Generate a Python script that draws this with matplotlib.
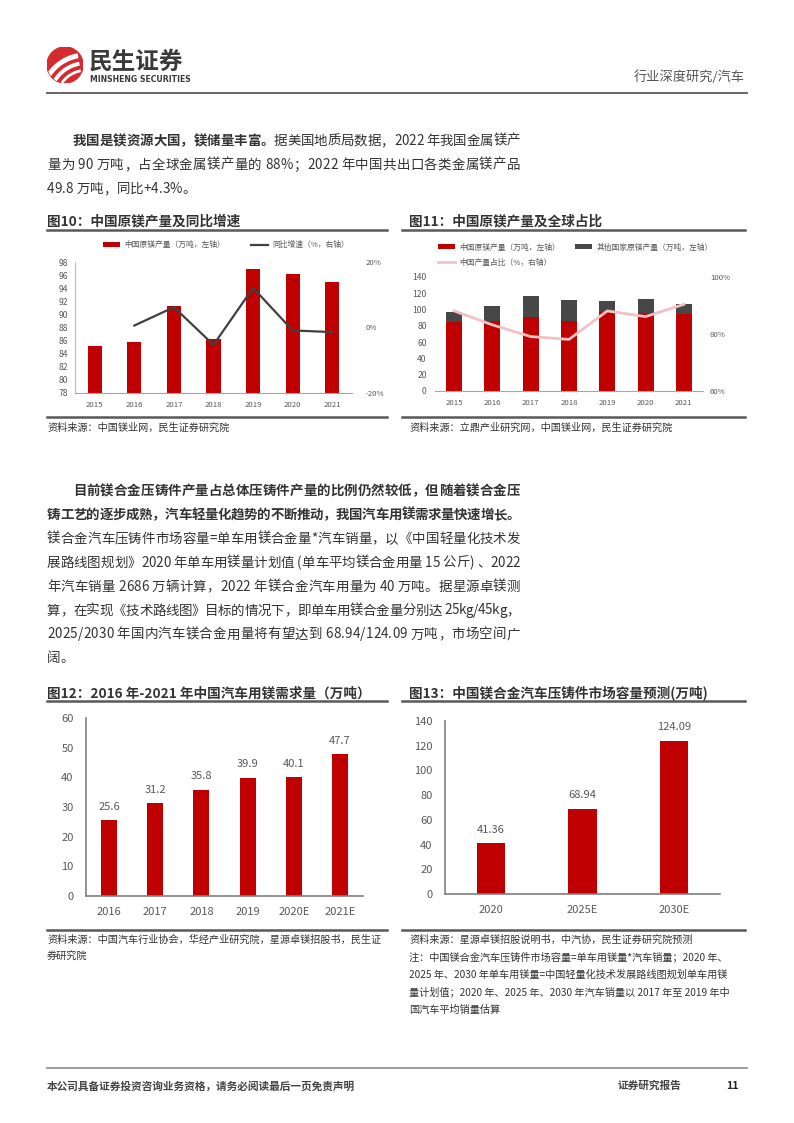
import matplotlib
matplotlib.use("Agg")
import matplotlib.pyplot as plt
from matplotlib.patches import Circle
from matplotlib.lines import Line2D
from matplotlib.font_manager import FontProperties
import numpy as np

plt.rcParams['font.family'] = ['Noto Sans CJK SC', 'DejaVu Sans']
plt.rcParams['axes.unicode_minus'] = False

# ---- data ----
years = ['2015', '2016', '2017', '2018', '2019', '2020', '2021']
cn_output = [85.2, 85.8, 91.3, 86.2, 97.0, 96.2, 95.0]
yoy_years = ['2016', '2017', '2018', '2019', '2020', '2021']
cn_yoy = [0.6, 6.2, -5.3, 12.1, -0.9, -1.4]
other_output = [12.0, 18.4, 25.2, 25.4, 13.7, 16.2, 11.6]
cn_share = [88.1, 83.2, 79.1, 78.1, 88.1, 86.1, 90.4]

demand_years = ['2016', '2017', '2018', '2019', '2020E', '2021E']
demand = [25.6, 31.2, 35.8, 39.9, 40.1, 47.7]

cap_years = ['2020', '2025E', '2030E']
capacity = [41.36, 68.94, 124.09]

# (bold part, normal part, justified?)
para1 = [
    ("我国是镁资源大国，镁储量丰富。", "据美国地质局数据，2022 年我国金属镁产", True),
    ("", "量为 90 万吨，占全球金属镁产量的 88%；2022 年中国共出口各类金属镁产品", True),
    ("", "49.8 万吨，同比+4.3%。", False),
]
para2 = [
    ("目前镁合金压铸件产量占总体压铸件产量的比例仍然较低，但随着镁合金压", "", True),
    ("铸工艺的逐步成熟，汽车轻量化趋势的不断推动，我国汽车用镁需求量快速增长。", "", True),
    ("", "镁合金汽车压铸件市场容量=单车用镁合金量*汽车销量，以《中国轻量化技术发", True),
    ("", "展路线图规划》2020 年单车用镁量计划值 (单车平均镁合金用量 15 公斤) 、2022", True),
    ("", "年汽车销量 2686 万辆计算，2022 年镁合金汽车用量为 40 万吨。据星源卓镁测", True),
    ("", "算，在实现《技术路线图》目标的情况下，即单车用镁合金量分别达 25kg/45kg，", True),
    ("", "2025/2030 年国内汽车镁合金用量将有望达到 68.94/124.09 万吨，市场空间广", True),
    ("", "阔。", False),
]

RED = '#C00000'
DARK = '#404040'
PINK = '#F2C2C2'
TXT = '#333333'
TICK = '#595959'

W, H = 794, 1123
fig = plt.figure(figsize=(W / 100, H / 100), dpi=100)


def fx(x):
    return x / W


def fy(y):
    return 1 - y / H


def add_axes_px(x0, y0, x1, y1):
    return fig.add_axes([fx(x0), fy(y1), (x1 - x0) / W, (y1 - y0) / H])


def hline(x0, x1, y, color='#595959', lw=1.5):
    fig.add_artist(Line2D([fx(x0), fx(x1)], [fy(y), fy(y)], color=color, lw=lw,
                          transform=fig.transFigure))


renderer = fig.canvas.get_renderer()
PSIZE = 9.7
fp_norm = FontProperties(family=['Noto Sans CJK SC', 'DejaVu Sans'], size=PSIZE)
fp_bold = FontProperties(family=['Noto Sans CJK SC', 'DejaVu Sans'], size=PSIZE,
                         weight='bold')
_bar_w = {}


def text_w(s, fp):
    # width in px; a sentinel keeps trailing spaces counted
    key = id(fp)
    if key not in _bar_w:
        _bar_w[key] = renderer.get_text_width_height_descent('|', fp, ismath=False)[0]
    w = renderer.get_text_width_height_descent(s + '|', fp, ismath=False)[0]
    return w - _bar_w[key]


def para_line(x, y, bold, normal, justify, right=520):
    chars = [(c, True) for c in bold] + [(c, False) for c in normal]
    pos = []
    for k in range(len(chars)):
        if k < len(bold):
            pos.append(text_w(bold[:k], fp_bold) if k else 0.0)
        else:
            pos.append(text_w(bold, fp_bold) + text_w(normal[:k - len(bold)], fp_norm))
    total = text_w(bold, fp_bold) + text_w(normal, fp_norm)
    extra = (right - x - total) / (len(chars) - 1) if justify and len(chars) > 1 else 0.0
    for k, (c, b) in enumerate(chars):
        if c == ' ':
            continue
        fig.text(fx(x + pos[k] + k * extra), fy(y), c, fontproperties=fp_bold if b else fp_norm,
                 color=TXT, va='center', ha='left')


# ---- header ----
logo = add_axes_px(47, 47, 83, 83)
logo.set_xlim(-1, 1)
logo.set_ylim(-1, 1)
logo.set_aspect('equal')
logo.axis('off')
disc = Circle((0, 0), 1, color='#D52B2F')
logo.add_patch(disc)
for r, w in [(1.6, 2.0), (2.0, 2.8), (2.45, 3.6)]:
    t = np.linspace(np.deg2rad(100), np.deg2rad(175), 50)
    ln, = logo.plot(1.15 + r * np.cos(t), -1.9 + r * np.sin(t), color='white', lw=w,
                    solid_capstyle='butt')
    ln.set_clip_path(disc)
fig.text(fx(89), fy(62), "民生证券", fontsize=17, fontweight='bold', color='#3A3A3A',
         va='center', ha='left')
fig.text(fx(90), fy(79.5), "MINSHENG SECURITIES", fontsize=5.6, fontweight='bold',
         color='#3A3A3A', va='center', ha='left', family='DejaVu Sans')
fig.text(fx(745), fy(77), "行业深度研究/汽车", fontsize=9.5, color='#555555',
         va='center', ha='right')
hline(47, 747, 93, color='#595959', lw=1.3)

# ---- paragraph 1 ----
for i, (b, n, j) in enumerate(para1):
    para_line(73 if i == 0 else 47, 141 + 24 * i, b, n, j)

# ---- figure titles row 1 ----
fig.text(fx(47), fy(221), "图10：中国原镁产量及同比增速", fontsize=9.8, fontweight='bold',
         color=TXT, va='center')
hline(47, 387, 230, lw=1.8)
fig.text(fx(409), fy(221), "图11：中国原镁产量及全球占比", fontsize=9.8, fontweight='bold',
         color=TXT, va='center')
hline(402, 745, 230, lw=1.8)

# ---- chart 10 ----
ax = add_axes_px(75, 262, 352, 393)
x = np.arange(len(years))
ax.bar(x, cn_output, width=0.36, color=RED, label='中国原镁产量（万吨，左轴）')
ax.set_ylim(78, 98)
ax.set_yticks(range(78, 99, 2))
ax.set_xlim(-0.5, len(years) - 0.5)
ax.set_xticks(x)
ax.set_xticklabels(years)
ax2 = ax.twinx()
ax2.plot([years.index(y) for y in yoy_years], cn_yoy, color=DARK, lw=1.6,
         label='同比增速（%，右轴）')
ax2.set_ylim(-20, 20)
ax2.set_yticks([-20, 0, 20])
ax2.set_yticklabels(['-20%', '0%', '20%'])
for a in (ax, ax2):
    for s in a.spines.values():
        s.set_visible(False)
    a.tick_params(length=0, labelsize=5.6, colors=TICK)
ax.spines['left'].set_visible(True)
ax.spines['bottom'].set_visible(True)
ax.spines['left'].set_color('#BFBFBF')
ax.spines['bottom'].set_color('#A6A6A6')
ax.tick_params(axis='x', pad=6)
ax.tick_params(axis='y', pad=5, labelsize=6.2)
ax2.tick_params(axis='y', pad=10)
h1, l1 = ax.get_legend_handles_labels()
h2, l2 = ax2.get_legend_handles_labels()
fig.legend(h1 + h2, l1 + l2, loc='center left', bbox_to_anchor=(fx(96), fy(245)), ncol=2,
           frameon=False, fontsize=5.6, handlelength=2.2, handleheight=0.6,
           handletextpad=0.5, columnspacing=3.4, labelcolor=TICK)

# ---- chart 11 ----
ax = add_axes_px(435, 277, 703, 391)
x = np.arange(len(years))
ax.bar(x, cn_output, width=0.42, color=RED, label='中国原镁产量（万吨，左轴）')
ax.bar(x, other_output, width=0.42, bottom=cn_output, color='#474747',
       label='其他国家原镁产量（万吨，左轴）')
ax.set_ylim(0, 140)
ax.set_yticks(range(0, 141, 20))
ax.set_xlim(-0.5, len(years) - 0.5)
ax.set_xticks(x)
ax.set_xticklabels(years)
ax2 = ax.twinx()
ax2.plot(x, cn_share, color=PINK, lw=2, label='中国产量占比（%，右轴）')
ax2.set_ylim(60, 100)
ax2.set_yticks([60, 80, 100])
ax2.set_yticklabels(['60%', '80%', '100%'])
for a in (ax, ax2):
    for s in a.spines.values():
        s.set_visible(False)
    a.tick_params(length=0, labelsize=5.6, colors=TICK)
ax.spines['bottom'].set_visible(True)
ax.spines['bottom'].set_color('#A6A6A6')
ax.tick_params(axis='x', pad=6)
ax.tick_params(axis='y', pad=6, labelsize=6.2)
ax2.tick_params(axis='y', pad=5)
h1, l1 = ax.get_legend_handles_labels()
h2, l2 = ax2.get_legend_handles_labels()
fig.legend([h1[0], h2[0], h1[1]], [l1[0], l2[0], l1[1]], loc='center left',
           bbox_to_anchor=(fx(431), fy(255)), ncol=2, frameon=False, fontsize=5.6,
           handlelength=2.2, handleheight=0.6, handletextpad=0.5, columnspacing=2.0,
           labelspacing=0.9, labelcolor=TICK)

# ---- sources row 1 ----
hline(47, 387, 417, lw=1.8)
hline(402, 745, 417, lw=1.8)
fig.text(fx(47), fy(428), "资料来源：中国镁业网，民生证券研究院", fontsize=7.3, color=TXT,
         va='center')
fig.text(fx(409), fy(428), "资料来源：立鼎产业研究网，中国镁业网，民生证券研究院", fontsize=7.3,
         color=TXT, va='center')

# ---- paragraph 2 ----
for i, (b, n, j) in enumerate(para2):
    para_line(73 if i == 0 else 47, 491 + 23.9 * i, b, n, j)

# ---- figure titles row 2 ----
fig.text(fx(47), fy(693), "图12：2016 年-2021 年中国汽车用镁需求量（万吨）", fontsize=9.8,
         fontweight='bold', color=TXT, va='center')
hline(47, 387, 701, lw=1.8)
fig.text(fx(409), fy(693), "图13：中国镁合金汽车压铸件市场容量预测(万吨)", fontsize=9.8,
         fontweight='bold', color=TXT, va='center')
hline(402, 745, 701, lw=1.8)

# ---- chart 12 ----
ax = add_axes_px(86, 718, 363, 896)
x = np.arange(len(demand_years))
bars = ax.bar(x, demand, width=0.35, color=RED)
ax.bar_label(bars, labels=[f'{v:.1f}' for v in demand], padding=6, fontsize=8, color=TICK)
ax.set_ylim(0, 60)
ax.set_yticks(range(0, 61, 10))
ax.set_xlim(-0.5, len(demand_years) - 0.5)
ax.set_xticks(x)
ax.set_xticklabels(demand_years)
for s in ['top', 'right']:
    ax.spines[s].set_visible(False)
for s in ['left', 'bottom']:
    ax.spines[s].set_color('#7F7F7F')
    ax.spines[s].set_linewidth(1.2)
ax.tick_params(length=0, labelsize=8, colors=TICK)
ax.tick_params(axis='x', pad=8)
ax.tick_params(axis='y', pad=9)

# ---- chart 13 ----
ax = add_axes_px(445, 721, 720, 894)
x = np.arange(len(cap_years))
bars = ax.bar(x, capacity, width=0.31, color=RED)
ax.bar_label(bars, labels=[f'{v:.2f}' for v in capacity], padding=6, fontsize=8, color=TICK)
ax.set_ylim(0, 140)
ax.set_yticks(range(0, 141, 20))
ax.set_xlim(-0.5, len(cap_years) - 0.5)
ax.set_xticks(x)
ax.set_xticklabels(cap_years)
for s in ['top', 'right']:
    ax.spines[s].set_visible(False)
for s in ['left', 'bottom']:
    ax.spines[s].set_color('#7F7F7F')
    ax.spines[s].set_linewidth(1.2)
ax.tick_params(length=0, labelsize=8, colors=TICK)
ax.tick_params(axis='x', pad=8)
ax.tick_params(axis='y', pad=9)

# ---- sources row 2 ----
hline(47, 387, 930, lw=1.8)
hline(402, 745, 930, lw=1.8)
src12 = ["资料来源：中国汽车行业协会，华经产业研究院，星源卓镁招股书，民生证", "券研究院"]
for i, s in enumerate(src12):
    fig.text(fx(47), fy(940 + 17 * i), s, fontsize=7.3, color=TXT, va='center')
src13 = [
    "资料来源：星源卓镁招股说明书，中汽协，民生证券研究院预测",
    "注：中国镁合金汽车压铸件市场容量=单车用镁量*汽车销量；2020 年、",
    "2025 年、2030 年单车用镁量=中国轻量化技术发展路线图规划单车用镁",
    "量计划值；2020 年、2025 年、2030 年汽车销量以 2017 年至 2019 年中",
    "国汽车平均销量估算",
]
for i, s in enumerate(src13):
    fig.text(fx(409), fy(940 + 17.5 * i), s, fontsize=7.3, color=TXT, va='center')

# ---- footer ----
hline(47, 747, 1068, color='#8C8C8C', lw=1.2)
fig.text(fx(47), fy(1086), "本公司具备证券投资咨询业务资格，请务必阅读最后一页免责声明", fontsize=7.7,
         fontweight='bold', color='#444444', va='center')
fig.text(fx(618), fy(1086), "证券研究报告", fontsize=7.7, fontweight='bold', color='#444444',
         va='center')
fig.text(fx(739), fy(1086), "11", fontsize=7.7, fontweight='bold', color='#222222',
         va='center', ha='right')

fig.savefig('out.png', dpi=100)
